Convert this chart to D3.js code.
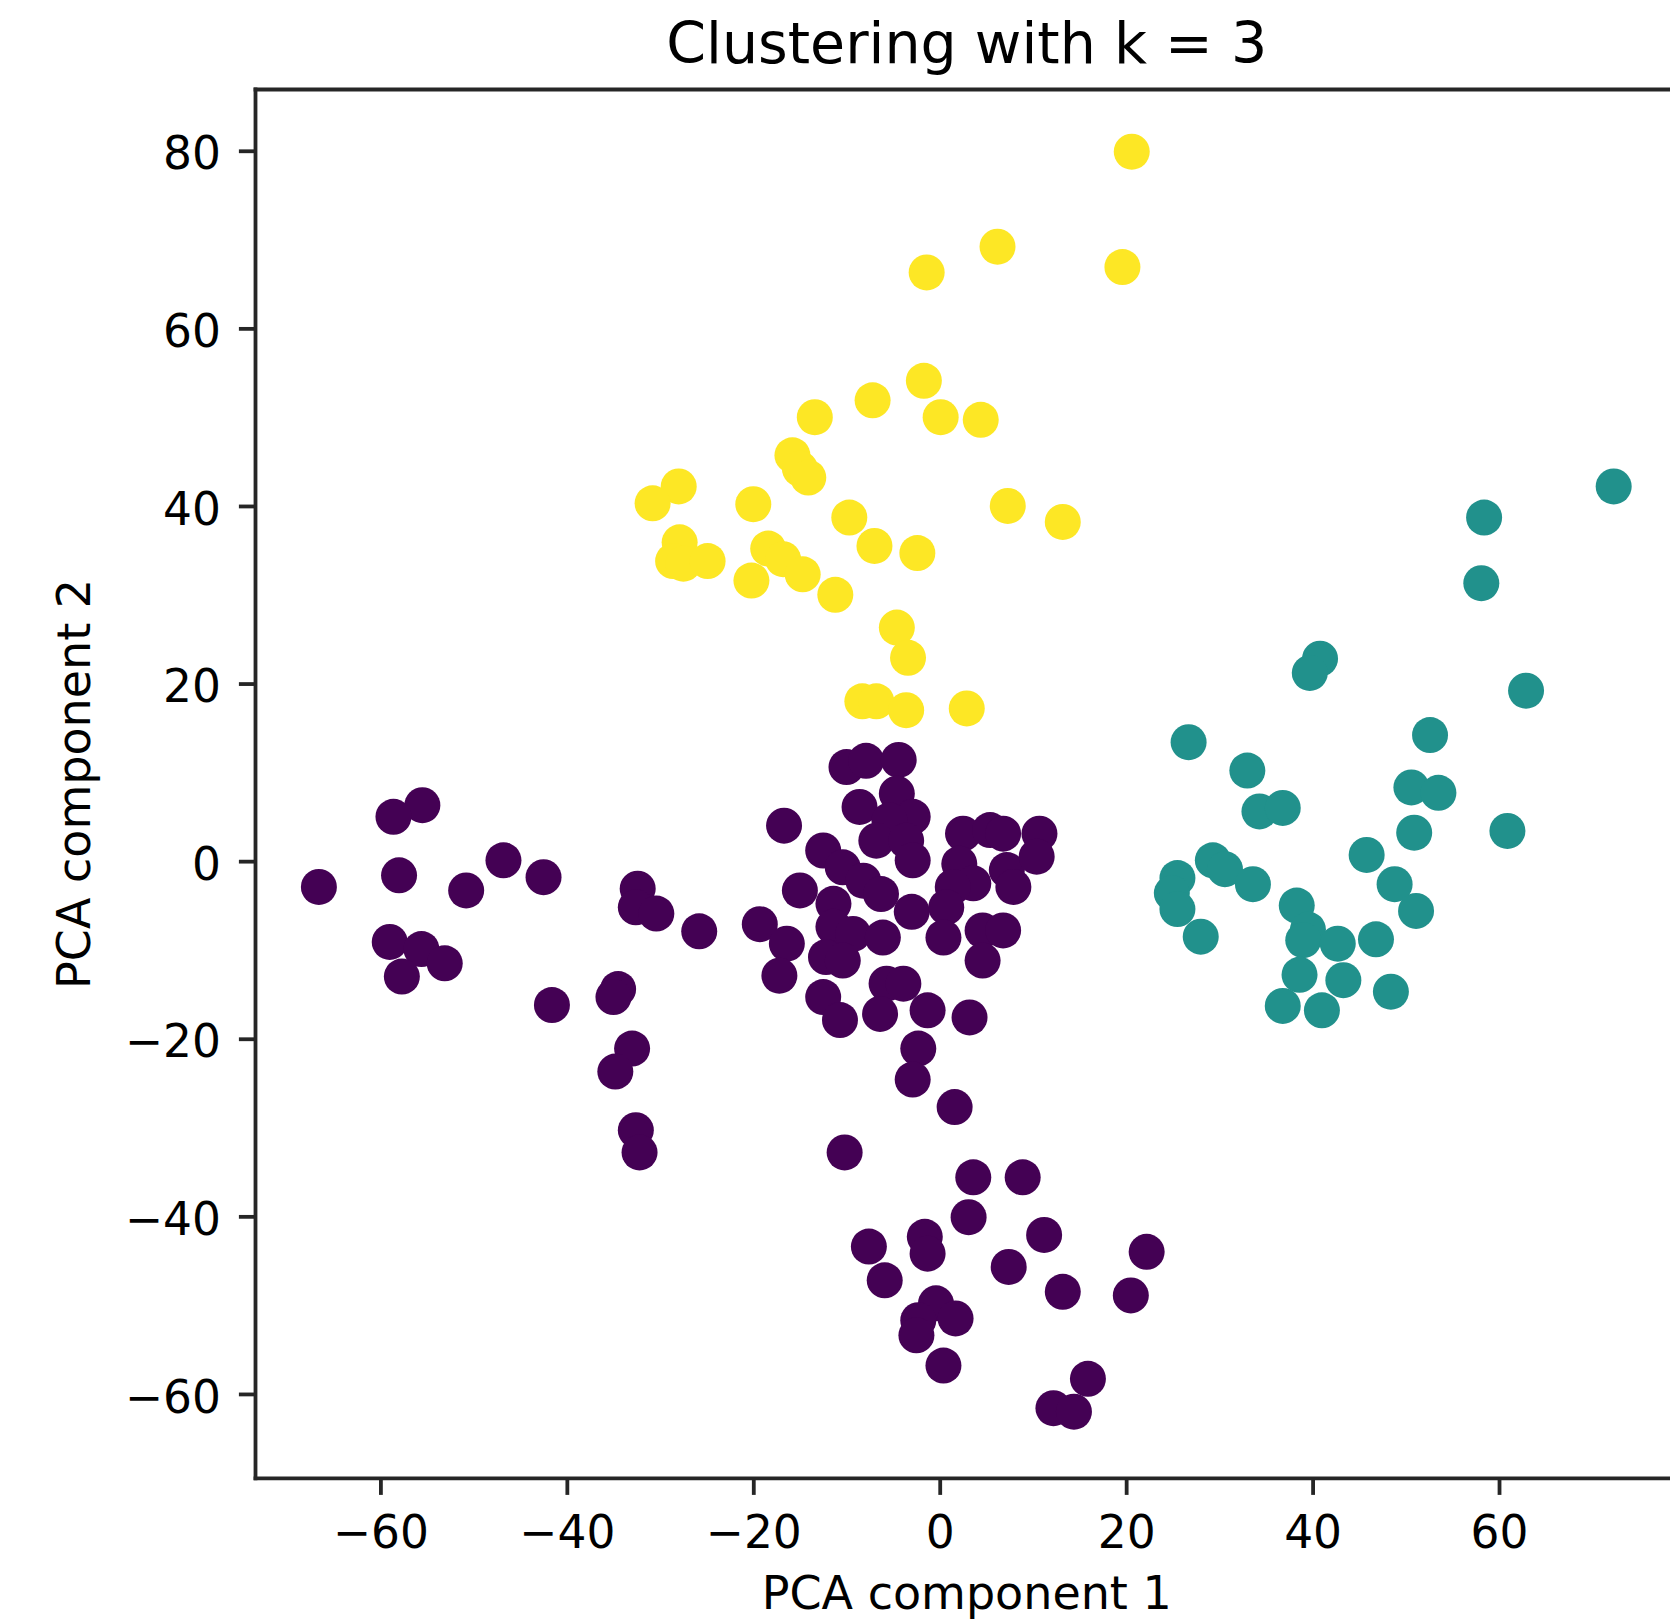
<!DOCTYPE html>
<html>
<head>
<meta charset="utf-8">
<script src="https://cdn.jsdelivr.net/npm/d3@7"></script>
<style>
  body { margin: 0; background: #fff; }
  svg { display: block; }
</style>
</head>
<body>
<div id="chart"></div>
<script>
// PCA scores, one array per k-means cluster
const yellowPoints = [
  [20.6, 79.9], [6.2, 69.2], [-1.4, 66.3], [19.6, 66.9],
  [-13.4, 50.0], [-7.2, 51.9], [-1.7, 54.1], [0.1, 50.0], [4.4, 49.7],
  [-15.8, 45.7], [-15.0, 44.2], [-14.1, 43.2],
  [-28.0, 42.2], [-30.8, 40.3], [-20.0, 40.2], [7.3, 40.0], [13.2, 38.2], [-9.7, 38.7],
  [-27.9, 35.9], [-28.6, 33.8], [-27.5, 33.5], [-24.9, 33.8],
  [-7.0, 35.5], [-2.4, 34.7], [-18.4, 35.2], [-16.8, 34.0], [-14.7, 32.3], [-20.2, 31.6], [-11.2, 30.0],
  [-4.6, 26.3], [-3.4, 22.9], [-8.3, 18.0], [-6.8, 18.0], [-3.6, 17.0], [2.9, 17.2]
];

const tealPoints = [
  [72.3, 42.2], [58.4, 38.7], [58.1, 31.3], [40.8, 22.8], [39.7, 21.2], [62.9, 19.2],
  [26.7, 13.4], [52.6, 14.2], [33.0, 10.2], [50.6, 8.3], [53.5, 7.7], [34.3, 5.6], [36.8, 6.0],
  [50.9, 3.2], [60.9, 3.4], [45.8, 0.7], [29.3, 0.1], [30.6, -0.9], [33.6, -2.6],
  [25.5, -1.9], [24.9, -3.6], [25.5, -5.4], [48.8, -2.6], [51.1, -5.6],
  [38.3, -5.0], [39.5, -7.7], [39.0, -8.9], [42.7, -9.3], [46.8, -8.8], [28.0, -8.5],
  [38.6, -12.8], [43.3, -13.4], [48.4, -14.7], [36.8, -16.3], [41.0, -16.8]
];

const purplePoints = [
  // centre
  [-10.0, 10.6], [-7.9, 11.3], [-4.4, 11.4], [-16.7, 4.0], [-8.6, 6.1], [-4.6, 7.6], [-2.9, 5.0],
  [-5.4, 4.6], [-6.8, 2.3], [-3.6, 2.3], [-2.9, 0.1],
  [-12.5, 1.2], [-10.4, -0.7], [-8.2, -2.2], [-6.3, -3.7],
  [2.5, 3.1], [5.4, 3.5], [10.7, 3.1], [6.8, 3.1], [2.1, -0.3], [7.2, -1.0], [10.4, 0.5],
  [7.9, -2.9], [3.6, -2.5], [1.4, -2.9],
  [-3.0, -5.7], [0.7, -5.2], [0.4, -8.6], [4.6, -7.8], [6.8, -7.8], [4.6, -11.2],
  [-15.0, -3.3], [-11.4, -4.8], [-19.3, -7.1], [-16.4, -9.3], [-17.2, -12.9],
  [-11.4, -7.4], [-9.3, -8.2], [-6.1, -8.6], [-12.2, -10.8], [-10.4, -11.2],
  [-12.5, -15.3], [-10.7, -17.9], [-5.7, -13.8], [-3.9, -13.8], [-6.4, -17.2],
  [-1.3, -16.8], [3.2, -17.6], [-2.3, -21.1],
  // left arm
  [-55.5, 6.3], [-58.6, 5.0], [-66.6, -2.9], [-58.0, -1.6], [-50.8, -3.3], [-46.8, 0.1], [-42.5, -1.8],
  [-32.4, -3.1], [-32.6, -5.2], [-30.4, -5.9], [-25.8, -7.9],
  [-59.0, -9.1], [-55.6, -9.9], [-53.1, -11.5], [-57.7, -13.0], [-41.6, -16.2],
  [-34.5, -14.4], [-35.0, -15.3], [-33.0, -21.1], [-34.8, -23.7], [-32.6, -30.3], [-32.2, -32.8],
  // lower arm
  [-2.9, -24.6], [1.6, -27.7], [-10.2, -32.8], [3.6, -35.6], [8.9, -35.6], [3.1, -40.1],
  [11.2, -42.1], [-7.6, -43.4], [-1.6, -42.3], [-1.3, -44.2], [7.4, -45.7], [22.2, -44.0],
  [-5.9, -47.2], [13.2, -48.5], [20.5, -48.9], [-0.4, -49.8], [1.7, -51.5], [-2.3, -51.7],
  [-2.5, -53.4], [0.4, -56.8], [15.9, -58.3], [12.2, -61.6], [14.4, -62.0]
];

const xTicks = [-60, -40, -20, 0, 20, 40, 60];
const yTicks = [-60, -40, -20, 0, 20, 40, 60, 80];

const titleText = "Clustering with k = 3";
const xLabel = "PCA component 1";
const yLabel = "PCA component 2";

// axes box (right edge falls just outside the picture)
const W = 1670, H = 1622;
const box = { left: 255.5, right: 1678, top: 89.5, bottom: 1478.3 };
const font = "DejaVu Sans, sans-serif";
const ink = "#262626";

const svg = d3.select("#chart")
    .append("svg")
    .attr("width", W)
    .attr("height", H);

svg.append("rect").attr("width", W).attr("height", H).attr("fill", "#fff");

const x = d3.scaleLinear().domain([-73.4, 79.2]).range([box.left, box.right]);
const y = d3.scaleLinear().domain([-69.5, 86.9]).range([box.bottom, box.top]);

// points, clusters drawn in label order (0 purple, 1 teal, 2 yellow)
const clusters = [
    { pts: purplePoints, color: "#440154" },
    { pts: tealPoints, color: "#21918c" },
    { pts: yellowPoints, color: "#fde725" }
];

const flat = clusters.flatMap(c => c.pts.map(p => ({ x: p[0], y: p[1], color: c.color })));

svg.append("g")
    .selectAll("circle")
    .data(flat)
    .join("circle")
    .attr("cx", d => x(d.x))
    .attr("cy", d => y(d.y))
    .attr("r", 18)
    .attr("fill", d => d.color);

const fmt = d => (d < 0 ? "\u2212" + Math.abs(d) : String(d));

// x axis
const gx = svg.append("g")
    .attr("transform", `translate(0,${box.bottom})`)
    .call(d3.axisBottom(x).tickValues(xTicks).tickFormat(fmt).tickSize(16.6).tickPadding(21).tickSizeOuter(0));
gx.select(".domain").remove();
gx.selectAll(".tick line").attr("stroke", ink).attr("stroke-width", 3.8);
gx.selectAll(".tick text").attr("fill", "#000").style("font-family", font).style("font-size", "45.5px");

// y axis
const gy = svg.append("g")
    .attr("transform", `translate(${box.left},0)`)
    .call(d3.axisLeft(y).tickValues(yTicks).tickFormat(fmt).tickSize(16.6).tickPadding(18).tickSizeOuter(0));
gy.select(".domain").remove();
gy.selectAll(".tick line").attr("stroke", ink).attr("stroke-width", 3.8);
gy.selectAll(".tick text").attr("fill", "#000").attr("dy", "0.4em")
    .style("font-family", font).style("font-size", "45.5px");

// spines
const spines = [
    [box.left, box.top, box.left, box.bottom],
    [box.left, box.bottom, box.right, box.bottom],
    [box.left, box.top, box.right, box.top],
    [box.right, box.top, box.right, box.bottom]
];
svg.append("g")
    .selectAll("line")
    .data(spines)
    .join("line")
    .attr("x1", d => d[0]).attr("y1", d => d[1])
    .attr("x2", d => d[2]).attr("y2", d => d[3])
    .attr("stroke", ink)
    .attr("stroke-width", 3.8)
    .attr("stroke-linecap", "square");

// title and labels
svg.append("text")
    .attr("x", (box.left + box.right) / 2)
    .attr("y", 63)
    .attr("text-anchor", "middle")
    .style("font-family", font)
    .style("font-size", "57px")
    .text(titleText);

svg.append("text")
    .attr("x", (box.left + box.right) / 2)
    .attr("y", 1609)
    .attr("text-anchor", "middle")
    .style("font-family", font)
    .style("font-size", "46px")
    .text(xLabel);

svg.append("text")
    .attr("transform", `translate(90,${(box.top + box.bottom) / 2}) rotate(-90)`)
    .attr("text-anchor", "middle")
    .style("font-family", font)
    .style("font-size", "46px")
    .text(yLabel);
</script>
</body>
</html>
